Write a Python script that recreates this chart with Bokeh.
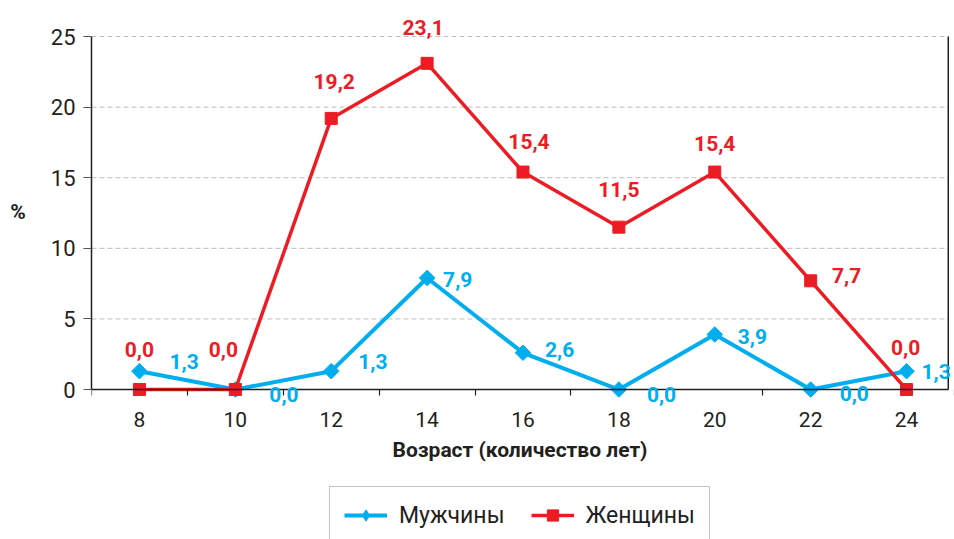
import math
from bokeh.plotting import figure
from bokeh.models import (ColumnDataSource, LabelSet, FixedTicker, Legend,
                          LegendItem, Range1d)
from bokeh.core.properties import value
from bokeh.embed import file_html
from bokeh.resources import INLINE

# ---- data ----
ages = [8, 10, 12, 14, 16, 18, 20, 22, 24]
men = [1.3, 0.0, 1.3, 7.9, 2.6, 0.0, 3.9, 0.0, 1.3]
women = [0.0, 0.0, 19.2, 23.1, 15.4, 11.5, 15.4, 7.7, 0.0]
men_text = ["1,3", "0,0", "1,3", "7,9", "2,6", "0,0", "3,9", "0,0", "1,3"]
women_text = ["0,0", "0,0", "19,2", "23,1", "15,4", "11,5", "15,4", "7,7", "0,0"]
y_ticks = [0, 5, 10, 15, 20, 25]
x_minor = [7, 9, 11, 13, 15, 17, 19, 21, 23, 25]
series_names = ["Мужчины", "Женщины"]
x_title = "Возраст (количество лет)"
y_title = "%"

# ---- label placement (screen px offsets) ----
men_dx = [30, 34, 27, 16, 22, 28, 23, 29, 15]
men_dy = [10, -5, 10, -2, 3, -5, -2, -4, 0]
women_dx = [0, -12, 3, -4, 6, 0, 0, 36, -1]
women_dy = [40, 40, 37, 36, 31, 38, 29, 5, 42]

FONT = "Roboto"
BLUE = "#00AEEF"
RED = "#ED1C24"
DARK = "#231F20"
X_START, X_END = 7, 25
X_BORDER = 24.87
Y_MIN, Y_MAX = 0, 25

p = figure(width=954, height=539, x_range=Range1d(X_START, X_END),
           y_range=Range1d(-10.62, 27.55),
           output_backend="svg", toolbar_location=None,
           min_border_left=91, min_border_right=0, min_border_top=0, min_border_bottom=0)
p.outline_line_color = None
p.background_fill_color = "white"

# axes
xa = p.xaxis[0]
xa.fixed_location = 0
xa.bounds = (X_START, X_BORDER)
xa.ticker = FixedTicker(ticks=ages, minor_ticks=x_minor)
xa.major_tick_out = 0
xa.major_tick_in = 0
xa.minor_tick_out = 6
xa.minor_tick_in = 0
xa.minor_tick_line_color = DARK
xa.minor_tick_line_width = 1.2
xa.axis_line_color = DARK
xa.axis_line_width = 1.5
xa.major_label_text_font = FONT
xa.major_label_text_font_size = "21px"
xa.major_label_text_color = DARK
xa.major_label_standoff = 16
xa.axis_label = x_title
xa.axis_label_text_font = FONT
xa.axis_label_text_font_style = "bold"
xa.axis_label_text_font_size = "21px"
xa.axis_label_text_color = DARK
xa.axis_label_standoff = 8

ya = p.yaxis[0]
ya.bounds = (Y_MIN, Y_MAX)
ya.ticker = FixedTicker(ticks=y_ticks)
ya.major_tick_out = 8
ya.major_tick_in = 0
ya.major_tick_line_color = "#555555"
ya.major_tick_line_width = 1.2
ya.minor_tick_line_color = None
ya.axis_line_color = DARK
ya.axis_line_width = 1.5
ya.major_label_text_font = FONT
ya.major_label_text_font_size = "22px"
ya.major_label_text_color = DARK
ya.major_label_standoff = 8
# empty lines below "%" lift it to the middle of the 0..25 span
ya.axis_label = y_title + "\n\n\n\n"
ya.axis_label_orientation = "horizontal"
ya.axis_label_text_font = FONT
ya.axis_label_text_font_style = "bold"
ya.axis_label_text_font_size = "21px"
ya.axis_label_text_color = DARK
ya.axis_label_standoff = 22

p.xgrid.visible = False
p.ygrid.visible = False

src = ColumnDataSource(dict(x=ages, men=men, women=women, mt=men_text, wt=women_text,
                            mdx=men_dx, mdy=men_dy, wdx=women_dx, wdy=women_dy))

# dashed horizontal grid lines, from the y axis to the right border
grid_src = ColumnDataSource(dict(y=y_ticks[1:]))
p.segment(x0=X_START, y0="y", x1=X_BORDER, y1="y", source=grid_src,
          line_color="#BDBDBD", line_width=1, line_dash="5 3")
# right border line of the plotting area, from 0 to 25
p.segment(x0=[X_BORDER], y0=[Y_MIN], x1=[X_BORDER], y1=[Y_MAX], line_color=DARK, line_width=1.5)

bl = p.line("x", "men", source=src, line_color=BLUE, line_width=4)
bs = p.scatter("x", "men", source=src, marker="square", angle=math.pi / 4, size=11,
               fill_color=BLUE, line_color=BLUE)
rl = p.line("x", "women", source=src, line_color=RED, line_width=3.5)
rs = p.scatter("x", "women", source=src, marker="square", size=12,
               fill_color=RED, line_color=RED)
# legend-only diamond symbol (a single NaN point, nothing drawn on the plot)
bd = p.scatter(x=[float("nan")], y=[float("nan")], marker="diamond",
               fill_color=BLUE, line_color=BLUE)

text_kw = dict(text_font=value(FONT), text_font_style="bold", text_font_size="21px",
               text_baseline="middle")
p.add_layout(LabelSet(x="x", y="men", text="mt", source=src, x_offset="mdx", y_offset="mdy",
                      text_color=BLUE, text_align="left", **text_kw))
p.add_layout(LabelSet(x="x", y="women", text="wt", source=src, x_offset="wdx", y_offset="wdy",
                      text_color=RED, text_align="center", **text_kw))

legend = Legend(items=[LegendItem(label=series_names[0], renderers=[bl, bd]),
                       LegendItem(label=series_names[1], renderers=[rl, rs])],
                location=(238, -5), orientation="horizontal",
                border_line_color="#8C8C8C", border_line_width=1.5,
                background_fill_color="white", background_fill_alpha=1,
                label_text_font=FONT, label_text_font_size="23px", label_text_color=DARK,
                glyph_width=43, glyph_height=28, label_standoff=12, spacing=26,
                padding=14, margin=0)
p.add_layout(legend)

open("out.html", "w").write(file_html(p, INLINE))
